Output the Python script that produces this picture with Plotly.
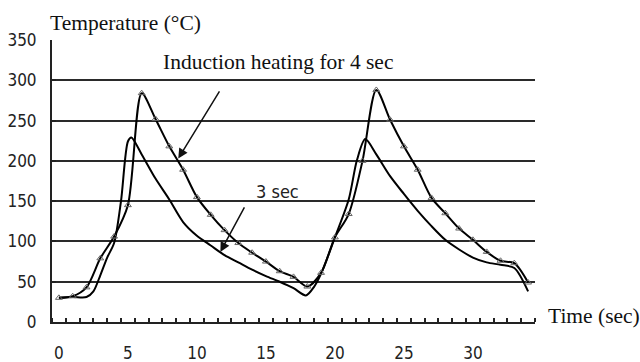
import plotly.graph_objects as go

# 4 s induction heating (with triangle markers)
time_4s = list(range(0, 35))
temp_4s = [30, 32, 43, 79, 106, 145, 284, 252, 218, 189, 155, 133, 114, 98, 86, 75, 63, 56, 44,
           61, 105, 134, 200, 288, 251, 218, 189, 154, 135, 116, 102, 87, 76, 73, 49]

# 3 s induction heating (plain line)
time_3s = [0, 1, 2, 2.5, 3, 3.5, 4, 4.5, 5, 5.25, 6, 7, 8, 9, 10, 11, 12, 13, 14, 15, 16, 17, 17.9,
           18.5, 19, 20, 21, 21.6, 22.2, 23, 24, 25, 26, 27, 28, 29, 30, 31, 32, 33, 34]
temp_3s = [30, 31, 31, 38, 58, 80, 98, 150, 224, 229, 208, 178, 152, 124, 107, 95, 83, 74, 65, 57, 50, 42, 33,
           44, 60, 105, 152, 201, 227, 208, 181, 159, 138, 119, 102, 90, 80, 74, 71, 67, 38]

y_ticks = [0, 50, 100, 150, 200, 250, 300, 350]
grid_vals = [50, 100, 150, 200, 250, 300]
x_ticks = [0, 5, 10, 15, 20, 25, 30]

SANS = "DejaVu Sans Condensed, Open Sans, sans-serif"
SERIF = "Liberation Serif, Times New Roman, serif"

fig = go.Figure()
fig.add_trace(go.Scatter(x=time_3s, y=temp_3s, mode="lines",
                         line=dict(color="black", width=2, shape="spline", smoothing=0.8),
                         showlegend=False))
fig.add_trace(go.Scatter(x=time_4s, y=temp_4s, mode="lines+markers",
                         line=dict(color="black", width=2, shape="spline", smoothing=0.8),
                         marker=dict(symbol="triangle-up-open", size=6, color="#666",
                                     line=dict(width=1, color="#666")),
                         showlegend=False))

fig.update_layout(
    template="none",
    width=640, height=362,
    margin=dict(l=52, r=105, t=40, b=40, pad=0),
    paper_bgcolor="white", plot_bgcolor="white",
    font=dict(family=SANS, size=17, color="#222"),
    xaxis=dict(range=[-0.5, 34.5], tickvals=x_ticks, ticks="", showgrid=False, zeroline=False,
               automargin=False,
               showline=True, linecolor="#222", linewidth=2,
               ticklabelstandoff=15,
               minor=dict(ticks="inside", tick0=0.5, dtick=1, ticklen=4, tickwidth=1.5,
                          tickcolor="#222", showgrid=False)),
    yaxis=dict(range=[0, 350], tickvals=y_ticks, ticks="inside", ticklen=4, tickwidth=1.5,
               tickcolor="#222", showgrid=False, zeroline=False, automargin=False,
               showline=True, linecolor="#222", linewidth=2, ticklabelstandoff=10,
               minor=dict(tickmode="array", tickvals=grid_vals, showgrid=True,
                          gridcolor="#2a2a2a", gridwidth=2, ticks="")),
)

ann_font = dict(family=SERIF, size=21.5, color="#111")
fig.add_annotation(x=15.86, y=323, xref="x", yref="y", text="Induction heating for 4 sec",
                   showarrow=False, font=ann_font, xanchor="center", yanchor="middle")
fig.add_annotation(x=8.65, y=203, ax=11.7, ay=288, xref="x", yref="y", axref="x", ayref="y",
                   text="", showarrow=True, arrowhead=2, arrowsize=1.3, arrowwidth=1.5,
                   arrowcolor="#111")
fig.add_annotation(x=15.86, y=161.5, xref="x", yref="y", text="3 sec", showarrow=False,
                   font=dict(family=SANS, size=18, color="#222"), xanchor="center", yanchor="middle")
fig.add_annotation(x=11.7, y=87, ax=13.5, ay=144, xref="x", yref="y", axref="x", ayref="y",
                   text="", showarrow=True, arrowhead=2, arrowsize=1.3, arrowwidth=1.5,
                   arrowcolor="#111")
fig.add_annotation(x=1.023, y=7, xref="paper", yref="y", text="Time (sec)", showarrow=False,
                   font=ann_font, xanchor="left", yanchor="middle")
fig.add_annotation(x=-0.008, y=1.06, xref="paper", yref="paper", text="Temperature (°C)",
                   showarrow=False, font=ann_font, xanchor="left", yanchor="middle")

fig.write_html("out.html", config={"displayModeBar": False},
               post_script="document.body.style.margin='0';document.body.style.overflow='hidden';")
